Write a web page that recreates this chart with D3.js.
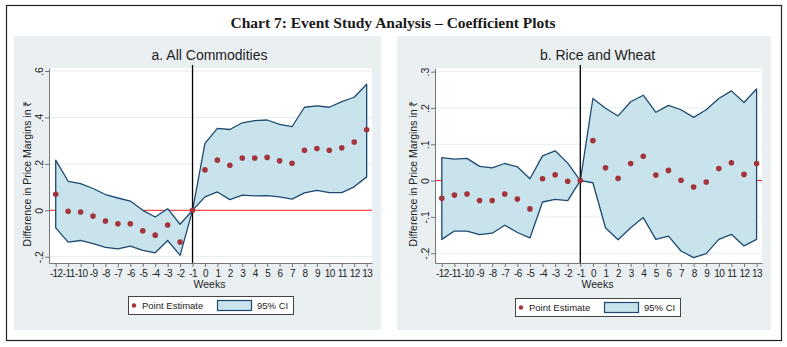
<!DOCTYPE html>
<html>
<head>
<meta charset="utf-8">
<script src="https://cdn.jsdelivr.net/npm/d3@7"></script>
<style>
  body { margin: 0; background: #fff; }
  text { font-family: "Liberation Sans", Arial, sans-serif; }
</style>
</head>
<body>
<div id="chart"></div>
<script>
const weeks = d3.range(-12, 14);

// panel a: All Commodities
const aPoint = [0.069, -0.004, -0.007, -0.025, -0.046, -0.058, -0.058, -0.088, -0.107, -0.063, -0.137, 0,
    0.174, 0.216, 0.194, 0.225, 0.225, 0.228, 0.213, 0.203, 0.259, 0.266, 0.259, 0.269, 0.294, 0.347];
const aUpper = [0.216, 0.125, 0.115, 0.094, 0.068, 0.053, 0.040, 0.000, -0.029, 0.007, -0.060, 0,
    0.288, 0.353, 0.348, 0.377, 0.386, 0.389, 0.370, 0.360, 0.444, 0.450, 0.444, 0.468, 0.487, 0.543];
const aLower = [-0.076, -0.137, -0.130, -0.144, -0.160, -0.166, -0.154, -0.173, -0.183, -0.130, -0.194, 0,
    0.058, 0.079, 0.046, 0.065, 0.062, 0.063, 0.058, 0.048, 0.075, 0.086, 0.076, 0.076, 0.101, 0.144];
const aYTicks = [-0.2, 0, 0.2, 0.4, 0.6];

// panel b: Rice and Wheat
const bPoint = [-0.049, -0.040, -0.037, -0.055, -0.055, -0.037, -0.051, -0.078, 0.005, 0.016, -0.002, 0,
    0.110, 0.035, 0.006, 0.047, 0.067, 0.015, 0.028, 0.001, -0.018, -0.004, 0.033, 0.049, 0.017, 0.047];
const bUpper = [0.063, 0.059, 0.061, 0.039, 0.035, 0.047, 0.038, 0.005, 0.068, 0.082, 0.048, 0,
    0.226, 0.199, 0.178, 0.217, 0.235, 0.188, 0.207, 0.195, 0.174, 0.195, 0.226, 0.247, 0.215, 0.252];
const bLower = [-0.162, -0.139, -0.139, -0.149, -0.145, -0.123, -0.143, -0.158, -0.059, -0.052, -0.055, 0,
    -0.006, -0.130, -0.163, -0.130, -0.102, -0.162, -0.153, -0.194, -0.212, -0.201, -0.162, -0.148, -0.180, -0.162];
const bYTicks = [-0.2, -0.1, 0, 0.1, 0.2, 0.3];

const width = 787, height = 347;

const svg = d3.select("#chart").append("svg")
    .attr("width", width)
    .attr("height", height);

svg.append("rect")
    .attr("x", 6.5).attr("y", 5.5)
    .attr("width", 775).attr("height", 335)
    .attr("fill", "#fff")
    .attr("stroke", "#222")
    .attr("stroke-width", 1.2);

svg.append("text")
    .attr("x", 393).attr("y", 28)
    .attr("text-anchor", "middle")
    .style("font-family", "'Liberation Serif', 'DejaVu Serif', serif")
    .style("font-weight", "bold")
    .style("font-size", "15.5px")
    .attr("fill", "#1a1a1a")
    .text("Chart 7: Event Study Analysis \u2013 Coefficient Plots");

// stata style labels: .6, -.2, 0
const fmt = d => d === 0 ? "0" : d3.format(".1f")(d).replace("\u2212", "-").replace("0.", ".");

function drawPanel(p) {
    const g = svg.append("g");

    // panel background
    g.append("rect")
        .attr("x", p.box[0]).attr("y", 36)
        .attr("width", p.box[1] - p.box[0]).attr("height", 294)
        .attr("fill", "#eaf0f2");

    const x = d3.scaleLinear().domain([-12.54, 13.43]).range([p.left, p.right]);
    const y = d3.scaleLinear().domain(p.yDomain).range([263, 68]);

    g.append("rect")
        .attr("x", p.left).attr("y", 68)
        .attr("width", p.right - p.left).attr("height", 195)
        .attr("fill", "#fff");

    // gridlines
    g.selectAll(".grid").data(p.yTicks).join("line")
        .attr("x1", p.left).attr("x2", p.right)
        .attr("y1", d => y(d)).attr("y2", d => y(d))
        .attr("stroke", "#e6edf0").attr("stroke-width", 1);

    // zero line
    g.append("line")
        .attr("x1", p.left).attr("x2", p.right)
        .attr("y1", y(0)).attr("y2", y(0))
        .attr("stroke", "#ff2020").attr("stroke-width", 1);

    const rows = weeks.map((w, i) => ({w: w, p: p.point[i], lo: p.lower[i], hi: p.upper[i]}));

    const area = d3.area()
        .x(d => x(d.w))
        .y0(d => y(d.lo))
        .y1(d => y(d.hi));

    g.append("path")
        .datum(rows)
        .attr("d", area)
        .attr("fill", "#c8e3ec")
        .attr("stroke", "#1d4a70")
        .attr("stroke-width", 1.3)
        .attr("stroke-linejoin", "round");

    // event line at week -1
    g.append("line")
        .attr("x1", x(-1)).attr("x2", x(-1))
        .attr("y1", 65).attr("y2", 263)
        .attr("stroke", "#000").attr("stroke-width", 1.3);

    g.selectAll(".pt").data(rows).join("circle")
        .attr("cx", d => x(d.w))
        .attr("cy", d => y(d.p))
        .attr("r", 2.8)
        .attr("fill", "#a3343b");

    // axes
    const xAxis = g.append("g")
        .attr("transform", "translate(0,263)")
        .call(d3.axisBottom(x).tickValues(weeks).tickFormat(d => String(d))
            .tickSize(4).tickSizeOuter(0).tickPadding(3));
    xAxis.select(".domain").attr("stroke", "#777");
    xAxis.selectAll(".tick line").attr("stroke", "#777");
    xAxis.selectAll("text")
        .style("font-size", "10px")
        .attr("fill", "#222")
        .attr("letter-spacing", "-0.6px");

    const yAxis = g.append("g")
        .attr("transform", `translate(${p.left},0)`)
        .call(d3.axisLeft(y).tickValues(p.yTicks).tickFormat(fmt).tickSize(4).tickSizeOuter(0));
    yAxis.select(".domain").attr("stroke", "#777");
    yAxis.selectAll(".tick line").attr("stroke", "#777");
    yAxis.selectAll("text")
        .attr("x", 0).attr("y", -6).attr("dy", 0)
        .attr("text-anchor", "middle")
        .attr("transform", "rotate(-90)")
        .style("font-size", "10.5px")
        .attr("fill", "#222");

    g.append("text")
        .attr("transform", `translate(${p.left - 18},${y(p.yDomain[0] + (p.yDomain[1] - p.yDomain[0]) / 2) + 8}) rotate(-90)`)
        .attr("text-anchor", "middle")
        .style("font-size", "10.5px")
        .attr("fill", "#222")
        .text("Difference in Price Margins in \u20b9");

    g.append("text")
        .attr("x", (p.left + p.right) / 2 - 1).attr("y", 288)
        .attr("text-anchor", "middle")
        .style("font-size", "10.5px")
        .attr("fill", "#222")
        .text("Weeks");

    g.append("text")
        .attr("x", (p.left + p.right) / 2 - 1).attr("y", 60)
        .attr("text-anchor", "middle")
        .style("font-size", "14px")
        .attr("fill", "#222")
        .text(p.title);

    // legend
    const lg = g.append("g").attr("transform", `translate(${p.legend[0]},${p.legend[1]})`);
    lg.append("rect")
        .attr("x", 0.5).attr("y", 0.5)
        .attr("width", 165).attr("height", 18)
        .attr("fill", "#fff").attr("stroke", "#444").attr("stroke-width", 1);
    lg.append("circle").attr("cx", 6).attr("cy", 9.5).attr("r", 2.2).attr("fill", "#a3343b");
    lg.append("text").attr("x", 14).attr("y", 13)
        .style("font-size", "9.5px").attr("fill", "#222").text("Point Estimate");
    lg.append("rect")
        .attr("x", 89.5).attr("y", 4.5).attr("width", 34).attr("height", 10)
        .attr("fill", "#c8e3ec").attr("stroke", "#1d4a70").attr("stroke-width", 1.2);
    lg.append("text").attr("x", 129).attr("y", 13)
        .style("font-size", "9.5px").attr("fill", "#222").text("95% CI");
}

drawPanel({
    title: "a. All Commodities",
    box: [14, 381], left: 49, right: 372,
    yDomain: [-0.227, 0.613], yTicks: aYTicks,
    point: aPoint, lower: aLower, upper: aUpper,
    legend: [128, 296]
});

drawPanel({
    title: "b. Rice and Wheat",
    box: [397, 771], left: 435, right: 762,
    yDomain: [-0.227, 0.31], yTicks: bYTicks,
    point: bPoint, lower: bLower, upper: bUpper,
    legend: [515, 298]
});
</script>
</body>
</html>
